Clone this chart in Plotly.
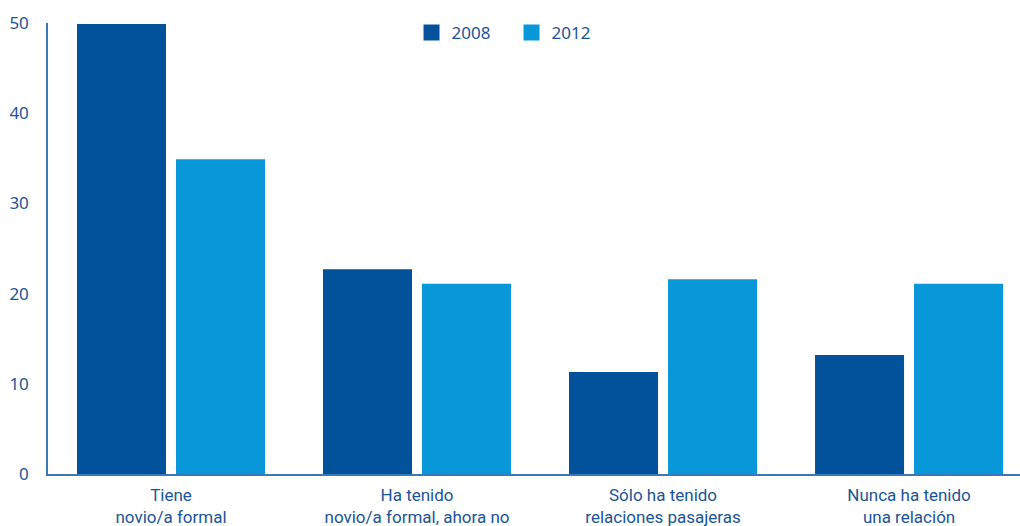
import plotly.graph_objects as go

categories = ["Tiene<br>novio/a formal",
              "Ha tenido<br>novio/a formal, ahora no",
              "Sólo ha tenido<br>relaciones pasajeras",
              "Nunca ha tenido<br>una relación"]
series_names = ["2008", "2012"]
values_2008 = [49.9, 22.7, 11.3, 13.2]
values_2012 = [34.9, 21.1, 21.6, 21.1]
y_ticks = [0, 10, 20, 30, 40, 50]

dark = "#02529b"
light = "#0897d8"
text_color = "#1a5596"
axis_color = "#3a78b8"

x_idx = list(range(len(categories)))

fig = go.Figure()
fig.add_trace(go.Bar(x=x_idx, y=values_2008, name=series_names[0],
                     marker=dict(color=dark, line=dict(width=0)), showlegend=False))
fig.add_trace(go.Bar(x=x_idx, y=values_2012, name=series_names[1],
                     marker=dict(color=light, line=dict(width=0)), showlegend=False))
# legend entries with larger square swatches
for name, col in zip(series_names, [dark, light]):
    fig.add_trace(go.Scatter(x=[None], y=[None], mode="markers", name=name,
                             marker=dict(symbol="square", size=21, color=col)))

fig.update_layout(
    width=1020, height=526,
    margin=dict(l=48, r=0, t=23, b=52),
    paper_bgcolor="white", plot_bgcolor="white",
    barmode="group", bargap=0.195, bargroupgap=0.101,
    font=dict(family="Noto Sans, Open Sans, sans-serif", color=text_color),
    legend=dict(orientation="h", x=0.374, y=0.978, xanchor="left", yanchor="middle",
                font=dict(size=17, color=text_color), itemwidth=30,
                entrywidth=55, entrywidthmode="pixels",
                tracegroupgap=0, bgcolor="rgba(0,0,0,0)"),
    xaxis=dict(tickmode="array", tickvals=x_idx, ticktext=categories,
               range=[-0.5, 3.451], showgrid=False, zeroline=False, automargin=False,
               showline=True, linecolor=axis_color, linewidth=1.5,
               ticks="", ticklabelstandoff=5,
               tickfont=dict(size=17, family="Liberation Sans Narrow, Roboto, sans-serif", color=text_color)),
    yaxis=dict(range=[0, 50], tickvals=y_ticks, showgrid=False, zeroline=False, automargin=False,
               showline=True, linecolor=axis_color, linewidth=1.5,
               ticks="", ticklabelstandoff=14,
               tickfont=dict(size=17, color=text_color)),
)

fig.write_html("out.html", config={"displayModeBar": False},
               post_script="document.body.style.margin='0';document.body.style.overflow='hidden';")
